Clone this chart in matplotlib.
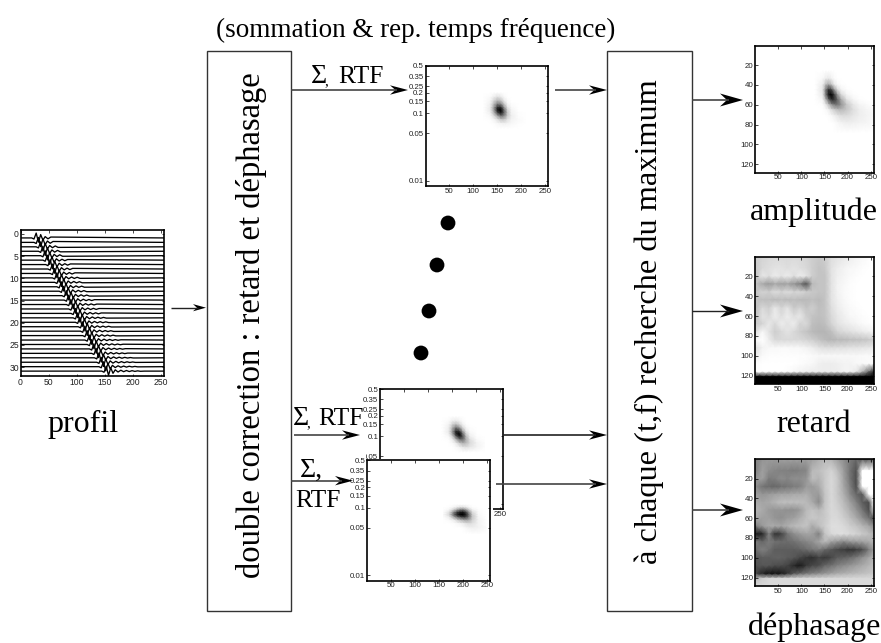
import matplotlib
matplotlib.use("Agg")
import matplotlib.pyplot as plt
import numpy as np
from matplotlib.patches import Polygon, Rectangle, Circle

W, H = 881, 643
SERIF = "Liberation Serif"
SANS = "Liberation Sans"

# ---- data ----
profile_onsets = [30, 34, 38, 42, 46, 50, 55, 59, 63, 67, 71, 75, 79, 84, 88, 92, 96, 100,
                  104, 108, 113, 117, 121, 125, 129, 133, 137, 142, 146, 150, 155]
profile_tail = [9, 9, 10, 10, 10, 11, 11, 11, 11, 12, 12, 12, 12, 12, 13, 13, 13, 13,
                14, 14, 14, 14, 14, 15, 15, 15, 15, 16, 16, 16, 17]
wave_dt = [-10, -6, -2, 2, 6, 10, 14, 19, 24, 29, 34, 39, 44, 49, 54, 59, 66]
wave_amp = [0.0, -0.25, 1.1, -0.95, 0.75, -0.5, 0.3, -0.2, 0.2, -0.13, 0.14, -0.1, 0.1, -0.06, 0.06, -0.04, 0.0]

tf_ticks = [0.01, 0.05, 0.1, 0.15, 0.2, 0.25, 0.35, 0.5]
tf_labels = ["0.01", "0.05", "0.1", "0.15", "0.2", "0.25", "0.35", "0.5"]
x_ticks = [50, 100, 150, 200, 250]
lag_ticks = [20, 40, 60, 80, 100, 120]
prof_xticks = [0, 50, 100, 150, 200, 250]
prof_yticks = [0, 5, 10, 15, 20, 25, 30]

top_x = [122, 136, 144, 151, 158, 165, 172, 180, 194, 210]
top_f = [0.2, 0.17, 0.15, 0.135, 0.12, 0.11, 0.1, 0.09, 0.08, 0.07, 0.06]
top_v = [[0, 0, 0, 0, 0, 0, 0, 0, 0, 0],
         [0, .02, .08, .14, .1, .03, 0, 0, 0, 0],
         [0, .04, .18, .3, .26, .1, .02, 0, 0, 0],
         [0, .06, .28, .5, .48, .22, .05, .01, 0, 0],
         [0, .08, .4, .82, .85, .42, .12, .03, 0, 0],
         [0, .08, .4, .9, 1, .58, .18, .04, 0, 0],
         [0, .06, .3, .7, .9, .6, .22, .05, .01, 0],
         [0, .03, .15, .35, .55, .45, .2, .07, .01, 0],
         [0, .01, .05, .12, .22, .22, .12, .05, .02, 0],
         [0, 0, .01, .03, .05, .06, .05, .03, .01, 0],
         [0, 0, 0, 0, 0, 0, 0, 0, 0, 0]]

mid_x = [130, 144, 152, 159, 166, 173, 180, 188, 202, 218]
mid_f = [0.195, 0.165, 0.147, 0.132, 0.117, 0.107, 0.098, 0.088, 0.078, 0.068, 0.058]
mid_v = [[0, 0, 0, 0, 0, 0, 0, 0, 0, 0],
         [0, .02, .08, .1, .06, .02, 0, 0, 0, 0],
         [0, .05, .2, .28, .18, .06, .01, 0, 0, 0],
         [0, .07, .32, .55, .42, .16, .04, .01, 0, 0],
         [0, .08, .42, .85, .8, .38, .1, .02, 0, 0],
         [0, .06, .36, .85, 1, .58, .18, .04, 0, 0],
         [0, .03, .2, .6, .88, .68, .28, .07, .01, 0],
         [0, .01, .08, .28, .52, .55, .32, .13, .02, 0],
         [0, 0, .02, .08, .2, .3, .26, .15, .05, .01],
         [0, 0, 0, .02, .05, .1, .12, .09, .05, .01],
         [0, 0, 0, 0, 0, 0, 0, 0, 0, 0]]

low_x = [160, 172, 182, 189, 195, 201, 207, 213, 220, 232, 248]
low_f = [0.11, 0.1, 0.092, 0.085, 0.078, 0.072, 0.065, 0.058, 0.05, 0.042]
low_v = [[0, 0, 0, 0, 0, 0, 0, 0, 0, 0, 0],
         [0, .01, .05, .1, .14, .14, .1, .04, .01, 0, 0],
         [0, .04, .2, .38, .5, .52, .38, .2, .06, .01, 0],
         [.01, .12, .5, .78, .88, .9, .72, .42, .14, .02, 0],
         [.02, .16, .62, .88, 1, 1, .85, .55, .2, .03, 0],
         [.01, .08, .36, .58, .7, .78, .72, .5, .22, .04, 0],
         [0, .02, .08, .18, .26, .32, .36, .32, .18, .05, .01],
         [0, 0, .01, .03, .05, .08, .12, .14, .12, .05, .01],
         [0, 0, 0, 0, 0, .01, .03, .05, .06, .05, .02],
         [0, 0, 0, 0, 0, 0, 0, 0, .01, .01, 0]]

amp_x = [130, 146, 153, 159, 165, 171, 178, 186, 198, 212, 225, 240, 256]
amp_y = [26, 34, 40, 45, 50, 55, 60, 65, 71, 78, 88]
amp_v = [[0, 0, 0, 0, 0, 0, 0, 0, 0, 0, 0, 0, 0],
         [0, .03, .08, .1, .06, .02, 0, 0, 0, 0, 0, 0, 0],
         [0, .08, .28, .36, .26, .1, .03, .01, 0, 0, 0, 0, 0],
         [0, .1, .5, .8, .72, .42, .16, .05, .01, 0, 0, 0, 0],
         [0, .08, .52, .9, 1, .78, .42, .16, .04, .01, 0, 0, 0],
         [0, .04, .3, .6, .82, .8, .6, .34, .12, .04, .01, 0, 0],
         [0, .01, .1, .25, .42, .52, .55, .42, .22, .1, .04, .02, 0],
         [0, 0, .02, .06, .14, .2, .26, .28, .22, .13, .07, .04, .02],
         [0, 0, 0, .01, .03, .06, .1, .14, .14, .1, .07, .05, .03],
         [0, 0, 0, 0, 0, .01, .03, .05, .07, .06, .05, .04, .02],
         [0, 0, 0, 0, 0, 0, 0, 0, 0, 0, 0, 0, 0]]

image_cols = [1, 16, 30, 43, 57, 70, 84, 97, 111, 124, 138, 151, 165, 178, 192, 205, 219, 232, 246, 256]
image_rows = [0.5, 12, 20, 28, 36, 44, 52, 60, 68, 76, 84, 92, 100, 108, 116, 121, 128.5]

retard_img = [
    [80, 82, 84, 84, 84, 84, 84, 84, 82, 80, 78, 80, 86, 88, 90, 92, 94, 96, 98, 99],
    [78, 84, 86, 88, 88, 86, 88, 86, 84, 80, 76, 78, 88, 92, 94, 96, 97, 98, 99, 99],
    [76, 90, 86, 92, 88, 92, 86, 92, 88, 80, 76, 76, 88, 93, 95, 97, 98, 99, 99, 99],
    [76, 66, 60, 66, 62, 64, 58, 50, 32, 72, 76, 76, 88, 94, 96, 98, 99, 99, 99, 99],
    [76, 82, 80, 86, 82, 86, 82, 84, 80, 78, 76, 76, 88, 94, 97, 98, 99, 99, 99, 99],
    [76, 74, 74, 72, 74, 72, 74, 72, 72, 74, 72, 76, 88, 93, 96, 98, 99, 99, 99, 99],
    [74, 84, 80, 90, 82, 88, 78, 82, 76, 80, 74, 76, 86, 92, 95, 97, 98, 99, 99, 99],
    [76, 88, 84, 92, 86, 92, 86, 90, 80, 76, 74, 76, 84, 90, 93, 96, 97, 98, 99, 99],
    [78, 82, 90, 84, 92, 88, 92, 82, 84, 74, 72, 74, 82, 88, 91, 93, 95, 97, 98, 99],
    [86, 96, 88, 80, 84, 88, 84, 80, 76, 72, 70, 70, 74, 82, 85, 87, 89, 91, 93, 95],
    [96, 99, 92, 84, 84, 84, 84, 84, 82, 80, 76, 72, 70, 72, 72, 74, 75, 76, 78, 80],
    [86, 94, 96, 96, 97, 97, 96, 96, 94, 92, 88, 86, 86, 87, 87, 88, 88, 89, 90, 92],
    [92, 97, 98, 98, 98, 98, 98, 98, 98, 97, 96, 96, 96, 96, 96, 96, 96, 97, 97, 98],
    [98, 99, 99, 99, 99, 99, 99, 98, 97, 96, 93, 92, 92, 93, 94, 94, 96, 96, 97, 97],
    [98, 99, 99, 99, 99, 98, 96, 94, 93, 92, 92, 92, 92, 92, 94, 94, 90, 70, 40, 20],
    [0, 0, 0, 0, 0, 0, 0, 0, 0, 0, 0, 0, 0, 0, 0, 0, 0, 0, 0, 0],
    [0, 0, 0, 0, 0, 0, 0, 0, 0, 0, 0, 0, 0, 0, 0, 0, 0, 0, 0, 0],
]

dephasage_img = [
    [50, 58, 60, 60, 62, 62, 62, 62, 62, 62, 68, 72, 70, 62, 55, 48, 40, 36, 34, 36],
    [50, 62, 55, 52, 50, 50, 48, 50, 52, 72, 74, 78, 82, 74, 60, 45, 32, 99, 99, 99],
    [58, 62, 48, 50, 55, 52, 56, 55, 58, 74, 70, 78, 84, 78, 62, 46, 30, 99, 99, 99],
    [55, 45, 42, 40, 44, 46, 48, 50, 60, 60, 66, 78, 84, 78, 64, 50, 30, 99, 99, 99],
    [62, 58, 60, 62, 64, 64, 66, 66, 68, 62, 60, 76, 84, 78, 68, 54, 40, 35, 99, 99],
    [66, 64, 66, 70, 74, 74, 74, 74, 72, 66, 54, 76, 84, 80, 72, 62, 50, 36, 30, 99],
    [70, 66, 60, 58, 58, 56, 56, 60, 72, 76, 72, 78, 84, 82, 76, 68, 58, 46, 30, 80],
    [66, 62, 62, 58, 56, 60, 62, 68, 74, 78, 76, 78, 84, 84, 80, 74, 66, 56, 44, 32],
    [48, 60, 66, 66, 64, 68, 72, 74, 76, 66, 74, 80, 86, 86, 84, 80, 76, 70, 64, 56],
    [10, 15, 50, 20, 26, 45, 55, 60, 64, 62, 50, 76, 84, 86, 86, 84, 82, 78, 74, 70],
    [48, 40, 48, 44, 42, 42, 44, 48, 52, 56, 64, 72, 62, 58, 52, 58, 60, 62, 66, 70],
    [42, 50, 44, 36, 36, 36, 36, 38, 42, 46, 48, 40, 34, 28, 24, 20, 24, 30, 48, 60],
    [34, 36, 36, 38, 38, 36, 34, 28, 22, 18, 26, 22, 28, 36, 38, 42, 48, 56, 64, 70],
    [32, 34, 34, 30, 30, 26, 16, 10, 22, 28, 30, 40, 44, 50, 54, 58, 62, 66, 70, 74],
    [28, 14, 8, 8, 10, 20, 34, 40, 46, 50, 54, 58, 62, 66, 68, 70, 72, 74, 76, 78],
    [72, 80, 84, 84, 84, 84, 84, 84, 84, 84, 84, 84, 84, 84, 84, 84, 84, 84, 84, 84],
    [84, 84, 84, 84, 84, 84, 84, 84, 84, 84, 84, 84, 84, 84, 84, 84, 84, 84, 84, 84],
]

caption = "(sommation & rep. temps fréquence)"
box_left_text = "double correction : retard et déphasage"
box_right_text = "à chaque (t,f) recherche du maximum"
dot_positions = [(448, 223), (437, 265), (429, 311), (421, 353)]

# ---- layout helpers ----
fig = plt.figure(figsize=(W / 100, H / 100), dpi=100, facecolor="white")


def ax_px(x0, y0, x1, y1, z):
    ax = fig.add_axes([x0 / W, 1 - y1 / H, (x1 - x0) / W, (y1 - y0) / H])
    ax.set_zorder(z)
    return ax


def style(ax, fs=5.7):
    for s in ax.spines.values():
        s.set_linewidth(1.2)
    ax.tick_params(which="both", direction="in", length=1.8, width=0.5, labelsize=fs,
                   pad=1.2, top=True, right=True)
    for t in ax.get_xticklabels() + ax.get_yticklabels():
        t.set_fontfamily(SANS)
        t.set_color("#222222")


def tf_axes(box, xs, fs, vals, z):
    ax = ax_px(*box, z)
    ax.set_yscale("log")
    ax.pcolormesh(xs, fs, np.array(vals), shading="gouraud", cmap="gray_r", vmin=0, vmax=1)
    ax.set_xlim(1, 256)
    ax.set_ylim(0.0083, 0.5)
    ax.set_xticks(x_ticks)
    ax.set_yticks(tf_ticks)
    ax.set_yticklabels(tf_labels)
    ax.minorticks_off()
    style(ax)
    return ax


def lag_axes(box, z=1):
    ax = ax_px(*box, z)
    ax.set_xlim(0.5, 256.5)
    ax.set_ylim(128.5, 0.5)
    return ax


# ---- profile ----
axp = ax_px(20.5, 229.5, 164, 376, 1)
for i, (t0, n) in enumerate(zip(profile_onsets, profile_tail)):
    tx = [0] + [t0 + d for d in wave_dt[:n]] + [256]
    ty = [0] + list(wave_amp[:n]) + [0]
    axp.plot(tx, [i + 0.9 - a for a in ty], color="black", lw=0.95, solid_joinstyle="round")
axp.set_xlim(0, 256)
axp.set_ylim(32, -1)
axp.set_xticks(prof_xticks)
axp.set_yticks(prof_yticks)
style(axp, 6.2)

# ---- time-frequency panels ----
tf_axes((425.7, 65.7, 547.7, 186.3), top_x, top_f, top_v, 1)
tf_axes((380, 389, 502.7, 509), mid_x, mid_f, mid_v, 1)

mask = ax_px(0, 0, W, H, 2)
mask.set_xlim(0, W)
mask.set_ylim(H, 0)
mask.axis("off")
mask.add_patch(Rectangle((345, 459), 148, 80, fc="white", ec="none"))
mask.add_patch(Rectangle((345, 448), 21, 12, fc="white", ec="none"))

tf_axes((367, 460.3, 489.7, 580.7), low_x, low_f, low_v, 3)

# ---- right-hand panels ----
axa = lag_axes((755.3, 45.7, 873.7, 172.7))
axa.pcolormesh(amp_x, amp_y, np.array(amp_v), shading="gouraud", cmap="gray_r", vmin=0, vmax=1)
axr = lag_axes((755.3, 256.7, 873.7, 384.3))
axr.pcolormesh(image_cols, image_rows, np.array(retard_img), shading="gouraud",
               cmap="gray", vmin=0, vmax=99)
axd = lag_axes((755.3, 459.3, 873.7, 586))
axd.pcolormesh(image_cols, image_rows, np.array(dephasage_img), shading="gouraud",
               cmap="gray", vmin=0, vmax=99)
for ax in (axa, axr, axd):
    ax.set_xlim(0.5, 256.5)
    ax.set_ylim(128.5, 0.5)
    ax.set_xticks(x_ticks)
    ax.set_yticks(lag_ticks)
    style(ax)

# ---- overlay: boxes, arrows, text, dots ----
ov = ax_px(0, 0, W, H, 5)
ov.set_xlim(0, W)
ov.set_ylim(H, 0)
ov.axis("off")
ov.patch.set_alpha(0)

for bx in (206.7, 607.3):
    ov.add_patch(Rectangle((bx, 50.7), 84.6, 560, fc="none", ec="#333333", lw=1.0))


def arrow(x0, x1, y, L=18, h=4.7, col="#444444", lw=1.2):
    ov.plot([x0, x1 - L * 0.6], [y, y], color=col, lw=lw, solid_capstyle="butt")
    ov.add_patch(Polygon([(x1, y), (x1 - L, y - h), (x1 - L * 0.7, y), (x1 - L, y + h)],
                         closed=True, fc="black", ec="none"))


arrow(171, 206, 307.7, L=13, h=3.6, col="#222222", lw=1.0)
arrow(291, 408, 90)
arrow(555, 607, 90, L=18)
arrow(294, 360, 435, L=18)
arrow(503, 607, 435, L=18, col="#222222")
arrow(291, 353, 480.7, L=18)
arrow(496, 607, 484, L=18)
arrow(692, 743, 100, L=23, h=6.5)
arrow(692, 743, 311, L=23, h=6.5, col="#222222", lw=1.0)
arrow(692, 743, 510, L=23, h=6.5)

for (x, y) in dot_positions:
    ov.add_patch(Circle((x, y), 7.4, fc="black", ec="none"))


def txt(x, y, s, size, ha="left", rot=0, va="baseline"):
    ov.text(x, y, s, fontsize=size, family=SERIF, ha=ha, va=va, rotation=rot,
            rotation_mode="anchor", color="black")


txt(216, 37, caption, 19.5)
txt(260, 325.5, box_left_text, 23.5, ha="center", rot=90)
txt(656.7, 321.5, box_right_text, 23.3, ha="center", rot=90)

txt(311, 83, "Σ", 20)
txt(324, 85, ",", 11)
txt(338, 83, "RTF", 18.4)
txt(293, 425, "Σ", 20)
txt(306, 427, ",", 11)
txt(318, 425, "RTF", 18.4)
txt(300, 477, "Σ,", 20)
txt(295, 507, "RTF", 18.4)

txt(47, 431.7, "profil", 23)
txt(750, 220, "amplitude", 23)
txt(776, 431.6, "retard", 23)
txt(748, 635, "déphasage", 23)

fig.savefig("out.png", dpi=100, facecolor="white")
